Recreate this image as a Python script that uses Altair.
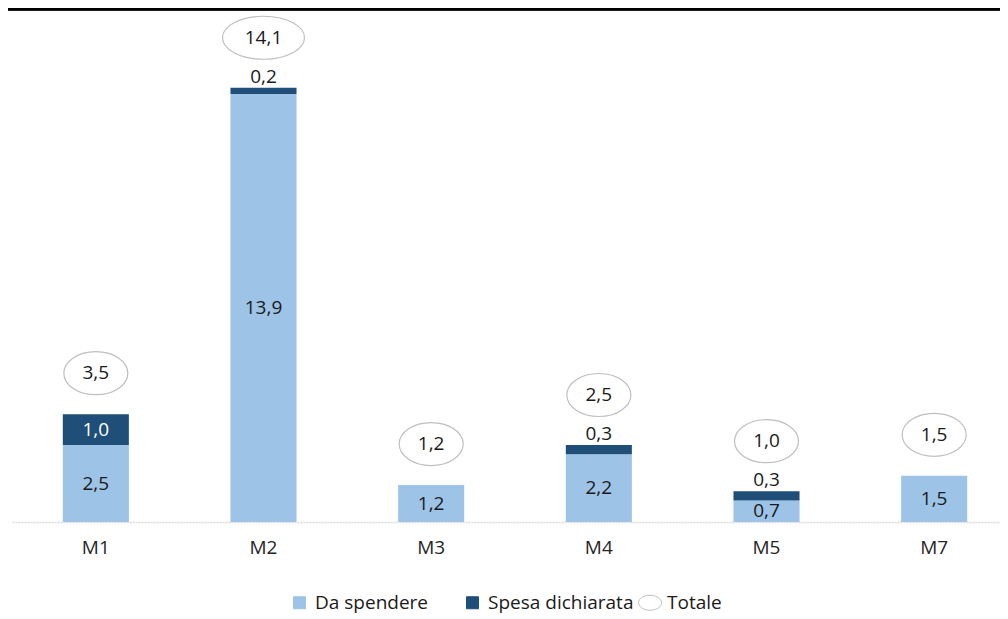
import altair as alt
import pandas as pd

categories = ["M1", "M2", "M3", "M4", "M5", "M7"]
da_spendere = [2.5, 13.9, 1.2, 2.2, 0.7, 1.5]
spesa_dichiarata = [1.0, 0.2, 0.0, 0.3, 0.3, 0.0]
totale = [3.5, 14.1, 1.2, 2.5, 1.0, 1.5]
series_names = ["Da spendere", "Spesa dichiarata", "Totale"]

LIGHT = "#9DC3E6"
DARK = "#1F4E79"
GRAY = "#BFBFBF"
TEXT = "#1a1a1a"
FONT = "Open Sans"
FS = 19

rows = []
for c, a, b in zip(categories, da_spendere, spesa_dichiarata):
    rows.append(dict(cat=c, series="Da spendere", value=a, y0=0.0, y1=a))
    rows.append(dict(cat=c, series="Spesa dichiarata", value=b, y0=a, y1=a + b))
seg = pd.DataFrame(rows)
seg["mid"] = (seg["y0"] + seg["y1"]) / 2

tot = pd.DataFrame(dict(
    cat=categories,
    total=totale,
    dark=spesa_dichiarata,
    top=[a + b for a, b in zip(da_spendere, spesa_dichiarata)],
))
leg = pd.DataFrame(dict(series=series_names))

LBL = "replace(format(datum.{f}, '.1f'), '.', ',')"

ELL_NARROW = "M -1.6 0 A 1.6 1.075 0 1 1 1.6 0 A 1.6 1.075 0 1 1 -1.6 0 Z"
ELL_WIDE = "M -2.05 0 A 2.05 1.075 0 1 1 2.05 0 A 2.05 1.075 0 1 1 -2.05 0 Z"
# legend symbols (unit = 6px); the leading move widens the entry without drawing
LEG_SQUARE = "M -6.5 0 M -1 -1 L 1 -1 L 1 1 L -1 1 Z"
LEG_ELL = "M -2.17 0 A 1.92 1.25 0 1 1 1.67 0 A 1.92 1.25 0 1 1 -2.17 0 Z"

x_enc = alt.X(
    "cat:N",
    sort=categories,
    scale=alt.Scale(range=[0, 1006], paddingInner=0.606, paddingOuter=0.303),
    axis=alt.Axis(
        title=None, labelAngle=0, ticks=False, tickSize=0,
        domainColor="#D9D9D9", domainWidth=1.5, domainDash=[2, 1],
        labelFont=FONT, labelFontSize=FS, labelColor="#262626", labelPadding=16,
    ),
)
y_scale = alt.Scale(domain=[0, 16.69], nice=False)

color_scale = alt.Scale(domain=series_names, range=[LIGHT, DARK, "#FFFFFF"])
stroke_scale = alt.Scale(domain=series_names, range=[LIGHT, DARK, GRAY])
shape_scale = alt.Scale(domain=series_names, range=[LEG_SQUARE, LEG_SQUARE, LEG_ELL])
legend_def = alt.Legend(
    title=None, orient="none", legendX=278, legendY=585, direction="horizontal",
    labelFont=FONT, labelFontSize=FS, labelColor=TEXT, symbolSize=144,
    symbolStrokeWidth=1, symbolOpacity=1, columnPadding=2, labelOffset=6,
)

bars = alt.Chart(seg).mark_bar().encode(
    x=x_enc,
    y=alt.Y("y1:Q", scale=y_scale, axis=None),
    y2="y0:Q",
    color=alt.Color("series:N", scale=color_scale, legend=legend_def),
)

legend_layer = alt.Chart(leg).mark_point(filled=True, opacity=0).encode(
    color=alt.Color("series:N", scale=color_scale, legend=legend_def),
    stroke=alt.Stroke("series:N", scale=stroke_scale, legend=legend_def),
    shape=alt.Shape("series:N", scale=shape_scale, legend=legend_def),
)

light_lbl = alt.Chart(seg).transform_filter(
    "datum.series == 'Da spendere'"
).transform_calculate(lbl=LBL.format(f="value")).mark_text(
    font=FONT, fontSize=FS, color=TEXT, baseline="middle"
).encode(x=alt.X("cat:N", sort=categories), y=alt.Y("mid:Q"), text="lbl:N")

dark_in = alt.Chart(seg).transform_filter(
    "datum.series == 'Spesa dichiarata' && datum.value >= 0.5"
).transform_calculate(lbl=LBL.format(f="value")).mark_text(
    font=FONT, fontSize=FS, color="#FFFFFF", baseline="middle"
).encode(x=alt.X("cat:N", sort=categories), y=alt.Y("mid:Q"), text="lbl:N")

dark_out = alt.Chart(seg).transform_filter(
    "datum.series == 'Spesa dichiarata' && datum.value > 0 && datum.value < 0.5"
).transform_calculate(lbl=LBL.format(f="value")).mark_text(
    font=FONT, fontSize=FS, color=TEXT, baseline="middle", dy=-11
).encode(x=alt.X("cat:N", sort=categories), y=alt.Y("y1:Q"), text="lbl:N")


def ellipse_layers(cond, off):
    base = alt.Chart(tot).transform_filter(cond).transform_calculate(
        lbl=LBL.format(f="total")
    ).transform_calculate(
        shp=f"length(datum.lbl) > 3 ? '{ELL_WIDE}' : '{ELL_NARROW}'"
    )
    ell = base.mark_point(
        filled=True, fill="#FFFFFF", stroke=GRAY, strokeWidth=1.2, size=1600, yOffset=off, opacity=1
    ).encode(
        x=alt.X("cat:N", sort=categories),
        y=alt.Y("top:Q"),
        shape=alt.Shape("shp:N", scale=None),
    )
    txt = base.mark_text(
        font=FONT, fontSize=FS, color=TEXT, baseline="middle", dy=off
    ).encode(x=alt.X("cat:N", sort=categories), y=alt.Y("top:Q"), text="lbl:N")
    return [ell, txt]


near = ellipse_layers("!(datum.dark > 0 && datum.dark < 0.5)", -41)
far = ellipse_layers("datum.dark > 0 && datum.dark < 0.5", -50)

border = alt.Chart(leg).mark_rule(color="black", strokeWidth=3).encode(
    y=alt.value(1), x=alt.value(-4), x2=alt.value(992)
)

chart = alt.layer(
    bars, light_lbl, dark_in, dark_out, *near, *far, legend_layer, border
).properties(
    width=988, height=514,
    autosize=alt.AutoSizeParams(type="none"),
    padding={"left": 4, "top": 0, "right": 0, "bottom": 92},
    background="#FFFFFF",
).configure_view(stroke=None)

chart.save("out.html", embed_options={"renderer": "svg", "actions": False})
